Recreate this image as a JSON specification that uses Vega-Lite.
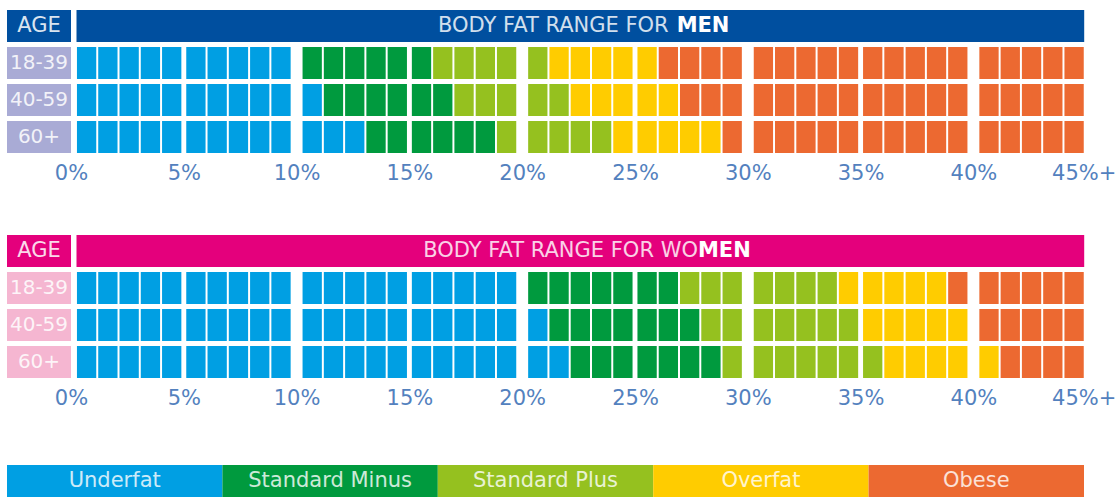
{
  "$schema": "https://vega.github.io/schema/vega-lite/v6.json",
  "padding": {"left": 0, "top": 10, "right": 0, "bottom": 0},
  "background": "white",
  "config": {"view": {"stroke": null}, "font": "DejaVu Sans"},
  "datasets": {
    "men": [
      {"age":"18-39","pct":0,"range":"Underfat"},{"age":"18-39","pct":1,"range":"Underfat"},{"age":"18-39","pct":2,"range":"Underfat"},{"age":"18-39","pct":3,"range":"Underfat"},{"age":"18-39","pct":4,"range":"Underfat"},
      {"age":"18-39","pct":5,"range":"Underfat"},{"age":"18-39","pct":6,"range":"Underfat"},{"age":"18-39","pct":7,"range":"Underfat"},{"age":"18-39","pct":8,"range":"Underfat"},{"age":"18-39","pct":9,"range":"Underfat"},
      {"age":"18-39","pct":10,"range":"Standard Minus"},{"age":"18-39","pct":11,"range":"Standard Minus"},{"age":"18-39","pct":12,"range":"Standard Minus"},{"age":"18-39","pct":13,"range":"Standard Minus"},{"age":"18-39","pct":14,"range":"Standard Minus"},
      {"age":"18-39","pct":15,"range":"Standard Minus"},{"age":"18-39","pct":16,"range":"Standard Plus"},{"age":"18-39","pct":17,"range":"Standard Plus"},{"age":"18-39","pct":18,"range":"Standard Plus"},{"age":"18-39","pct":19,"range":"Standard Plus"},
      {"age":"18-39","pct":20,"range":"Standard Plus"},{"age":"18-39","pct":21,"range":"Overfat"},{"age":"18-39","pct":22,"range":"Overfat"},{"age":"18-39","pct":23,"range":"Overfat"},{"age":"18-39","pct":24,"range":"Overfat"},
      {"age":"18-39","pct":25,"range":"Overfat"},{"age":"18-39","pct":26,"range":"Obese"},{"age":"18-39","pct":27,"range":"Obese"},{"age":"18-39","pct":28,"range":"Obese"},{"age":"18-39","pct":29,"range":"Obese"},
      {"age":"18-39","pct":30,"range":"Obese"},{"age":"18-39","pct":31,"range":"Obese"},{"age":"18-39","pct":32,"range":"Obese"},{"age":"18-39","pct":33,"range":"Obese"},{"age":"18-39","pct":34,"range":"Obese"},
      {"age":"18-39","pct":35,"range":"Obese"},{"age":"18-39","pct":36,"range":"Obese"},{"age":"18-39","pct":37,"range":"Obese"},{"age":"18-39","pct":38,"range":"Obese"},{"age":"18-39","pct":39,"range":"Obese"},
      {"age":"18-39","pct":40,"range":"Obese"},{"age":"18-39","pct":41,"range":"Obese"},{"age":"18-39","pct":42,"range":"Obese"},{"age":"18-39","pct":43,"range":"Obese"},{"age":"18-39","pct":44,"range":"Obese"},
      {"age":"40-59","pct":0,"range":"Underfat"},{"age":"40-59","pct":1,"range":"Underfat"},{"age":"40-59","pct":2,"range":"Underfat"},{"age":"40-59","pct":3,"range":"Underfat"},{"age":"40-59","pct":4,"range":"Underfat"},
      {"age":"40-59","pct":5,"range":"Underfat"},{"age":"40-59","pct":6,"range":"Underfat"},{"age":"40-59","pct":7,"range":"Underfat"},{"age":"40-59","pct":8,"range":"Underfat"},{"age":"40-59","pct":9,"range":"Underfat"},
      {"age":"40-59","pct":10,"range":"Underfat"},{"age":"40-59","pct":11,"range":"Standard Minus"},{"age":"40-59","pct":12,"range":"Standard Minus"},{"age":"40-59","pct":13,"range":"Standard Minus"},{"age":"40-59","pct":14,"range":"Standard Minus"},
      {"age":"40-59","pct":15,"range":"Standard Minus"},{"age":"40-59","pct":16,"range":"Standard Minus"},{"age":"40-59","pct":17,"range":"Standard Plus"},{"age":"40-59","pct":18,"range":"Standard Plus"},{"age":"40-59","pct":19,"range":"Standard Plus"},
      {"age":"40-59","pct":20,"range":"Standard Plus"},{"age":"40-59","pct":21,"range":"Standard Plus"},{"age":"40-59","pct":22,"range":"Overfat"},{"age":"40-59","pct":23,"range":"Overfat"},{"age":"40-59","pct":24,"range":"Overfat"},
      {"age":"40-59","pct":25,"range":"Overfat"},{"age":"40-59","pct":26,"range":"Overfat"},{"age":"40-59","pct":27,"range":"Obese"},{"age":"40-59","pct":28,"range":"Obese"},{"age":"40-59","pct":29,"range":"Obese"},
      {"age":"40-59","pct":30,"range":"Obese"},{"age":"40-59","pct":31,"range":"Obese"},{"age":"40-59","pct":32,"range":"Obese"},{"age":"40-59","pct":33,"range":"Obese"},{"age":"40-59","pct":34,"range":"Obese"},
      {"age":"40-59","pct":35,"range":"Obese"},{"age":"40-59","pct":36,"range":"Obese"},{"age":"40-59","pct":37,"range":"Obese"},{"age":"40-59","pct":38,"range":"Obese"},{"age":"40-59","pct":39,"range":"Obese"},
      {"age":"40-59","pct":40,"range":"Obese"},{"age":"40-59","pct":41,"range":"Obese"},{"age":"40-59","pct":42,"range":"Obese"},{"age":"40-59","pct":43,"range":"Obese"},{"age":"40-59","pct":44,"range":"Obese"},
      {"age":"60+","pct":0,"range":"Underfat"},{"age":"60+","pct":1,"range":"Underfat"},{"age":"60+","pct":2,"range":"Underfat"},{"age":"60+","pct":3,"range":"Underfat"},{"age":"60+","pct":4,"range":"Underfat"},
      {"age":"60+","pct":5,"range":"Underfat"},{"age":"60+","pct":6,"range":"Underfat"},{"age":"60+","pct":7,"range":"Underfat"},{"age":"60+","pct":8,"range":"Underfat"},{"age":"60+","pct":9,"range":"Underfat"},
      {"age":"60+","pct":10,"range":"Underfat"},{"age":"60+","pct":11,"range":"Underfat"},{"age":"60+","pct":12,"range":"Underfat"},{"age":"60+","pct":13,"range":"Standard Minus"},{"age":"60+","pct":14,"range":"Standard Minus"},
      {"age":"60+","pct":15,"range":"Standard Minus"},{"age":"60+","pct":16,"range":"Standard Minus"},{"age":"60+","pct":17,"range":"Standard Minus"},{"age":"60+","pct":18,"range":"Standard Minus"},{"age":"60+","pct":19,"range":"Standard Plus"},
      {"age":"60+","pct":20,"range":"Standard Plus"},{"age":"60+","pct":21,"range":"Standard Plus"},{"age":"60+","pct":22,"range":"Standard Plus"},{"age":"60+","pct":23,"range":"Standard Plus"},{"age":"60+","pct":24,"range":"Overfat"},
      {"age":"60+","pct":25,"range":"Overfat"},{"age":"60+","pct":26,"range":"Overfat"},{"age":"60+","pct":27,"range":"Overfat"},{"age":"60+","pct":28,"range":"Overfat"},{"age":"60+","pct":29,"range":"Obese"},
      {"age":"60+","pct":30,"range":"Obese"},{"age":"60+","pct":31,"range":"Obese"},{"age":"60+","pct":32,"range":"Obese"},{"age":"60+","pct":33,"range":"Obese"},{"age":"60+","pct":34,"range":"Obese"},
      {"age":"60+","pct":35,"range":"Obese"},{"age":"60+","pct":36,"range":"Obese"},{"age":"60+","pct":37,"range":"Obese"},{"age":"60+","pct":38,"range":"Obese"},{"age":"60+","pct":39,"range":"Obese"},
      {"age":"60+","pct":40,"range":"Obese"},{"age":"60+","pct":41,"range":"Obese"},{"age":"60+","pct":42,"range":"Obese"},{"age":"60+","pct":43,"range":"Obese"},{"age":"60+","pct":44,"range":"Obese"}
    ],
    "women": [
      {"age":"18-39","pct":0,"range":"Underfat"},{"age":"18-39","pct":1,"range":"Underfat"},{"age":"18-39","pct":2,"range":"Underfat"},{"age":"18-39","pct":3,"range":"Underfat"},{"age":"18-39","pct":4,"range":"Underfat"},
      {"age":"18-39","pct":5,"range":"Underfat"},{"age":"18-39","pct":6,"range":"Underfat"},{"age":"18-39","pct":7,"range":"Underfat"},{"age":"18-39","pct":8,"range":"Underfat"},{"age":"18-39","pct":9,"range":"Underfat"},
      {"age":"18-39","pct":10,"range":"Underfat"},{"age":"18-39","pct":11,"range":"Underfat"},{"age":"18-39","pct":12,"range":"Underfat"},{"age":"18-39","pct":13,"range":"Underfat"},{"age":"18-39","pct":14,"range":"Underfat"},
      {"age":"18-39","pct":15,"range":"Underfat"},{"age":"18-39","pct":16,"range":"Underfat"},{"age":"18-39","pct":17,"range":"Underfat"},{"age":"18-39","pct":18,"range":"Underfat"},{"age":"18-39","pct":19,"range":"Underfat"},
      {"age":"18-39","pct":20,"range":"Standard Minus"},{"age":"18-39","pct":21,"range":"Standard Minus"},{"age":"18-39","pct":22,"range":"Standard Minus"},{"age":"18-39","pct":23,"range":"Standard Minus"},{"age":"18-39","pct":24,"range":"Standard Minus"},
      {"age":"18-39","pct":25,"range":"Standard Minus"},{"age":"18-39","pct":26,"range":"Standard Minus"},{"age":"18-39","pct":27,"range":"Standard Plus"},{"age":"18-39","pct":28,"range":"Standard Plus"},{"age":"18-39","pct":29,"range":"Standard Plus"},
      {"age":"18-39","pct":30,"range":"Standard Plus"},{"age":"18-39","pct":31,"range":"Standard Plus"},{"age":"18-39","pct":32,"range":"Standard Plus"},{"age":"18-39","pct":33,"range":"Standard Plus"},{"age":"18-39","pct":34,"range":"Overfat"},
      {"age":"18-39","pct":35,"range":"Overfat"},{"age":"18-39","pct":36,"range":"Overfat"},{"age":"18-39","pct":37,"range":"Overfat"},{"age":"18-39","pct":38,"range":"Overfat"},{"age":"18-39","pct":39,"range":"Obese"},
      {"age":"18-39","pct":40,"range":"Obese"},{"age":"18-39","pct":41,"range":"Obese"},{"age":"18-39","pct":42,"range":"Obese"},{"age":"18-39","pct":43,"range":"Obese"},{"age":"18-39","pct":44,"range":"Obese"},
      {"age":"40-59","pct":0,"range":"Underfat"},{"age":"40-59","pct":1,"range":"Underfat"},{"age":"40-59","pct":2,"range":"Underfat"},{"age":"40-59","pct":3,"range":"Underfat"},{"age":"40-59","pct":4,"range":"Underfat"},
      {"age":"40-59","pct":5,"range":"Underfat"},{"age":"40-59","pct":6,"range":"Underfat"},{"age":"40-59","pct":7,"range":"Underfat"},{"age":"40-59","pct":8,"range":"Underfat"},{"age":"40-59","pct":9,"range":"Underfat"},
      {"age":"40-59","pct":10,"range":"Underfat"},{"age":"40-59","pct":11,"range":"Underfat"},{"age":"40-59","pct":12,"range":"Underfat"},{"age":"40-59","pct":13,"range":"Underfat"},{"age":"40-59","pct":14,"range":"Underfat"},
      {"age":"40-59","pct":15,"range":"Underfat"},{"age":"40-59","pct":16,"range":"Underfat"},{"age":"40-59","pct":17,"range":"Underfat"},{"age":"40-59","pct":18,"range":"Underfat"},{"age":"40-59","pct":19,"range":"Underfat"},
      {"age":"40-59","pct":20,"range":"Underfat"},{"age":"40-59","pct":21,"range":"Standard Minus"},{"age":"40-59","pct":22,"range":"Standard Minus"},{"age":"40-59","pct":23,"range":"Standard Minus"},{"age":"40-59","pct":24,"range":"Standard Minus"},
      {"age":"40-59","pct":25,"range":"Standard Minus"},{"age":"40-59","pct":26,"range":"Standard Minus"},{"age":"40-59","pct":27,"range":"Standard Minus"},{"age":"40-59","pct":28,"range":"Standard Plus"},{"age":"40-59","pct":29,"range":"Standard Plus"},
      {"age":"40-59","pct":30,"range":"Standard Plus"},{"age":"40-59","pct":31,"range":"Standard Plus"},{"age":"40-59","pct":32,"range":"Standard Plus"},{"age":"40-59","pct":33,"range":"Standard Plus"},{"age":"40-59","pct":34,"range":"Standard Plus"},
      {"age":"40-59","pct":35,"range":"Overfat"},{"age":"40-59","pct":36,"range":"Overfat"},{"age":"40-59","pct":37,"range":"Overfat"},{"age":"40-59","pct":38,"range":"Overfat"},{"age":"40-59","pct":39,"range":"Overfat"},
      {"age":"40-59","pct":40,"range":"Obese"},{"age":"40-59","pct":41,"range":"Obese"},{"age":"40-59","pct":42,"range":"Obese"},{"age":"40-59","pct":43,"range":"Obese"},{"age":"40-59","pct":44,"range":"Obese"},
      {"age":"60+","pct":0,"range":"Underfat"},{"age":"60+","pct":1,"range":"Underfat"},{"age":"60+","pct":2,"range":"Underfat"},{"age":"60+","pct":3,"range":"Underfat"},{"age":"60+","pct":4,"range":"Underfat"},
      {"age":"60+","pct":5,"range":"Underfat"},{"age":"60+","pct":6,"range":"Underfat"},{"age":"60+","pct":7,"range":"Underfat"},{"age":"60+","pct":8,"range":"Underfat"},{"age":"60+","pct":9,"range":"Underfat"},
      {"age":"60+","pct":10,"range":"Underfat"},{"age":"60+","pct":11,"range":"Underfat"},{"age":"60+","pct":12,"range":"Underfat"},{"age":"60+","pct":13,"range":"Underfat"},{"age":"60+","pct":14,"range":"Underfat"},
      {"age":"60+","pct":15,"range":"Underfat"},{"age":"60+","pct":16,"range":"Underfat"},{"age":"60+","pct":17,"range":"Underfat"},{"age":"60+","pct":18,"range":"Underfat"},{"age":"60+","pct":19,"range":"Underfat"},
      {"age":"60+","pct":20,"range":"Underfat"},{"age":"60+","pct":21,"range":"Underfat"},{"age":"60+","pct":22,"range":"Standard Minus"},{"age":"60+","pct":23,"range":"Standard Minus"},{"age":"60+","pct":24,"range":"Standard Minus"},
      {"age":"60+","pct":25,"range":"Standard Minus"},{"age":"60+","pct":26,"range":"Standard Minus"},{"age":"60+","pct":27,"range":"Standard Minus"},{"age":"60+","pct":28,"range":"Standard Minus"},{"age":"60+","pct":29,"range":"Standard Plus"},
      {"age":"60+","pct":30,"range":"Standard Plus"},{"age":"60+","pct":31,"range":"Standard Plus"},{"age":"60+","pct":32,"range":"Standard Plus"},{"age":"60+","pct":33,"range":"Standard Plus"},{"age":"60+","pct":34,"range":"Standard Plus"},
      {"age":"60+","pct":35,"range":"Standard Plus"},{"age":"60+","pct":36,"range":"Overfat"},{"age":"60+","pct":37,"range":"Overfat"},{"age":"60+","pct":38,"range":"Overfat"},{"age":"60+","pct":39,"range":"Overfat"},
      {"age":"60+","pct":40,"range":"Overfat"},{"age":"60+","pct":41,"range":"Obese"},{"age":"60+","pct":42,"range":"Obese"},{"age":"60+","pct":43,"range":"Obese"},{"age":"60+","pct":44,"range":"Obese"}
    ],
    "ages": [{"age":"18-39"},{"age":"40-59"},{"age":"60+"}],
    "header": [{"age":"AGE"}],
    "ranges": [{"range":"Underfat"},{"range":"Standard Minus"},{"range":"Standard Plus"},{"range":"Overfat"},{"range":"Obese"}]
  },
  "bounds": "flush",
  "spacing": 82,
  "vconcat": [
    {
      "width": 1118, "height": 143,
      "layer": [
        {
          "data": {"name": "men"},
          "mark": {"type": "tick", "orient": "vertical", "thickness": 19.3, "size": 32, "opacity": 1},
          "encoding": {
            "x": {
              "field": "pct", "type": "quantitative",
              "scale": {
                "type": "linear", "nice": false, "zero": false,
                "domain": [-4, -1, -0.5, 0, 4, 5, 9, 10, 14, 15, 19, 20, 24, 25, 29, 30, 34, 35, 39, 40, 44, 44.5],
                "range": [7, 71, 76, 86.6, 171.7, 195.9, 281, 312.2, 397.3, 421.5, 506.6, 537.8, 622.9, 647.1, 732.2, 763.4, 848.5, 872.7, 957.8, 989, 1074.1, 1083.7]
              },
              "axis": {
                "values": [-1, 4.5, 9.5, 14.5, 19.5, 24.5, 29.5, 34.5, 39.5, 44.5],
                "labelExpr": "datum.value < 0 ? '0%' : (datum.value > 44 ? '45%+' : (datum.value + 0.5) + '%')",
                "domain": false, "ticks": false, "grid": false, "title": null,
                "labelFont": "DejaVu Sans", "labelFontSize": 21, "labelColor": "#5381BE", "labelPadding": 9,
                "labelFlush": false, "labelBound": false, "labelOverlap": false
              }
            },
            "y": {
              "field": "age", "type": "nominal",
              "scale": {"type": "band", "domain": ["AGE", "18-39", "40-59", "60+"], "paddingInner": 0.135, "paddingOuter": 0},
              "axis": null
            },
            "color": {
              "field": "range", "type": "nominal",
              "scale": {"domain": ["Underfat", "Standard Minus", "Standard Plus", "Overfat", "Obese"], "range": ["#009FE3", "#009A3E", "#95C11F", "#FFCC00", "#EC6931"]},
              "legend": null
            }
          }
        },
        {
          "data": {"name": "header"},
          "mark": {"type": "tick", "orient": "vertical", "thickness": 64, "size": 32, "opacity": 1, "color": "#004F9F"},
          "encoding": {"x": {"datum": -2.5, "type": "quantitative"}, "y": {"field": "age", "type": "nominal"}}
        },
        {
          "data": {"name": "header"},
          "mark": {"type": "tick", "orient": "vertical", "thickness": 1007.7, "size": 32, "opacity": 1, "color": "#004F9F"},
          "encoding": {"x": {"datum": 22, "type": "quantitative"}, "y": {"field": "age", "type": "nominal"}}
        },
        {
          "data": {"name": "ages"},
          "mark": {"type": "tick", "orient": "vertical", "thickness": 64, "size": 32, "opacity": 1, "color": "#A9ABD5"},
          "encoding": {"x": {"datum": -2.5, "type": "quantitative"}, "y": {"field": "age", "type": "nominal"}}
        },
        {
          "data": {"name": "ages"},
          "mark": {"type": "text", "fontSize": 20, "fill": "#ffffff", "opacity": 0.85, "align": "center", "baseline": "middle"},
          "encoding": {"x": {"datum": -2.5, "type": "quantitative"}, "y": {"field": "age", "type": "nominal"}, "text": {"field": "age"}}
        },
        {
          "data": {"name": "header"},
          "mark": {"type": "text", "fontSize": 21, "fill": "#ffffff", "opacity": 0.85, "align": "center", "baseline": "middle"},
          "encoding": {"x": {"datum": -2.5, "type": "quantitative"}, "y": {"field": "age", "type": "nominal"}, "text": {"field": "age"}}
        },
        {
          "data": {"name": "header"},
          "mark": {"type": "text", "fontSize": 21, "fill": "#ffffff", "opacity": 0.82, "align": "right", "baseline": "middle", "dx": -4, "text": "BODY FAT RANGE FOR"},
          "encoding": {"x": {"datum": 26.2, "type": "quantitative"}, "y": {"field": "age", "type": "nominal"}}
        },
        {
          "data": {"name": "header"},
          "mark": {"type": "text", "fontSize": 21, "fontWeight": "bold", "fill": "#ffffff", "align": "left", "baseline": "middle", "dx": 4, "text": "MEN"},
          "encoding": {"x": {"datum": 26.2, "type": "quantitative"}, "y": {"field": "age", "type": "nominal"}}
        }
      ]
    },
    {
      "width": 1118, "height": 148,
      "layer": [
        {
          "data": {"name": "women"},
          "mark": {"type": "tick", "orient": "vertical", "thickness": 19.3, "size": 32, "opacity": 1},
          "encoding": {
            "x": {
              "field": "pct", "type": "quantitative",
              "scale": {
                "type": "linear", "nice": false, "zero": false,
                "domain": [-4, -1, -0.5, 0, 4, 5, 9, 10, 14, 15, 19, 20, 24, 25, 29, 30, 34, 35, 39, 40, 44, 44.5],
                "range": [7, 71, 76, 86.6, 171.7, 195.9, 281, 312.2, 397.3, 421.5, 506.6, 537.8, 622.9, 647.1, 732.2, 763.4, 848.5, 872.7, 957.8, 989, 1074.1, 1083.7]
              },
              "axis": {
                "values": [-1, 4.5, 9.5, 14.5, 19.5, 24.5, 29.5, 34.5, 39.5, 44.5],
                "labelExpr": "datum.value < 0 ? '0%' : (datum.value > 44 ? '45%+' : (datum.value + 0.5) + '%')",
                "domain": false, "ticks": false, "grid": false, "title": null,
                "labelFont": "DejaVu Sans", "labelFontSize": 21, "labelColor": "#5381BE", "labelPadding": 4,
                "labelFlush": false, "labelBound": false, "labelOverlap": false
              }
            },
            "y": {
              "field": "age", "type": "nominal",
              "scale": {"type": "band", "domain": ["AGE", "18-39", "40-59", "60+"], "range": [0, 143], "paddingInner": 0.135, "paddingOuter": 0},
              "axis": null
            },
            "color": {
              "field": "range", "type": "nominal",
              "scale": {"domain": ["Underfat", "Standard Minus", "Standard Plus", "Overfat", "Obese"], "range": ["#009FE3", "#009A3E", "#95C11F", "#FFCC00", "#EC6931"]},
              "legend": null
            }
          }
        },
        {
          "data": {"name": "header"},
          "mark": {"type": "tick", "orient": "vertical", "thickness": 64, "size": 32, "opacity": 1, "color": "#E4007C"},
          "encoding": {"x": {"datum": -2.5, "type": "quantitative"}, "y": {"field": "age", "type": "nominal"}}
        },
        {
          "data": {"name": "header"},
          "mark": {"type": "tick", "orient": "vertical", "thickness": 1007.7, "size": 32, "opacity": 1, "color": "#E4007C"},
          "encoding": {"x": {"datum": 22, "type": "quantitative"}, "y": {"field": "age", "type": "nominal"}}
        },
        {
          "data": {"name": "ages"},
          "mark": {"type": "tick", "orient": "vertical", "thickness": 64, "size": 32, "opacity": 1, "color": "#F5B6D1"},
          "encoding": {"x": {"datum": -2.5, "type": "quantitative"}, "y": {"field": "age", "type": "nominal"}}
        },
        {
          "data": {"name": "ages"},
          "mark": {"type": "text", "fontSize": 20, "fill": "#ffffff", "opacity": 0.85, "align": "center", "baseline": "middle"},
          "encoding": {"x": {"datum": -2.5, "type": "quantitative"}, "y": {"field": "age", "type": "nominal"}, "text": {"field": "age"}}
        },
        {
          "data": {"name": "header"},
          "mark": {"type": "text", "fontSize": 21, "fill": "#ffffff", "opacity": 0.85, "align": "center", "baseline": "middle"},
          "encoding": {"x": {"datum": -2.5, "type": "quantitative"}, "y": {"field": "age", "type": "nominal"}, "text": {"field": "age"}}
        },
        {
          "data": {"name": "header"},
          "mark": {"type": "text", "fontSize": 21, "fill": "#ffffff", "opacity": 0.82, "align": "right", "baseline": "middle", "text": "BODY FAT RANGE FOR WO"},
          "encoding": {"x": {"datum": 27.39, "type": "quantitative"}, "y": {"field": "age", "type": "nominal"}}
        },
        {
          "data": {"name": "header"},
          "mark": {"type": "text", "fontSize": 21, "fontWeight": "bold", "fill": "#ffffff", "align": "left", "baseline": "middle", "text": "MEN"},
          "encoding": {"x": {"datum": 27.39, "type": "quantitative"}, "y": {"field": "age", "type": "nominal"}}
        }
      ]
    },
    {
      "width": 1118, "height": 32,
      "data": {"name": "ranges"},
      "encoding": {
        "x": {
          "field": "range", "type": "nominal", "sort": null,
          "scale": {"type": "band", "domain": ["Underfat", "Standard Minus", "Standard Plus", "Overfat", "Obese"], "range": [7, 1084], "paddingInner": 0, "paddingOuter": 0},
          "axis": null
        }
      },
      "layer": [
        {
          "mark": {"type": "rect"},
          "encoding": {
            "color": {
              "field": "range", "type": "nominal",
              "scale": {"domain": ["Underfat", "Standard Minus", "Standard Plus", "Overfat", "Obese"], "range": ["#009FE3", "#009A3E", "#95C11F", "#FFCC00", "#EC6931"]},
              "legend": null
            }
          }
        },
        {
          "mark": {"type": "text", "fontSize": 21, "fill": "#ffffff", "opacity": 0.8, "align": "center", "baseline": "middle"},
          "encoding": {"text": {"field": "range"}}
        }
      ]
    }
  ]
}
